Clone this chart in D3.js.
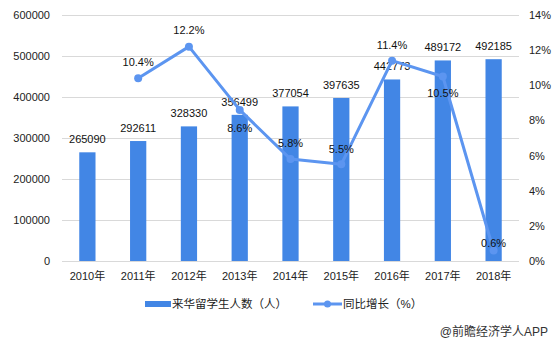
<!DOCTYPE html>
<html>
<head>
<meta charset="utf-8">
<script src="https://cdn.jsdelivr.net/npm/d3@7/dist/d3.min.js"></script>
<style>
  html, body { margin: 0; padding: 0; background: #fff; }
  svg text { font-family: "Liberation Sans", Arial, "Noto Sans CJK SC", sans-serif; }
</style>
</head>
<body>
<svg id="chart" width="554" height="343"></svg>
<script>
// International students in China, 2010-2018
const years = ["2010年", "2011年", "2012年", "2013年", "2014年", "2015年", "2016年", "2017年", "2018年"];
const students = [265090, 292611, 328330, 356499, 377054, 397635, 442773, 489172, 492185];
const growth = [null, 10.4, 12.2, 8.6, 5.8, 5.5, 11.4, 10.5, 0.6];
const leftTicks = [0, 100000, 200000, 300000, 400000, 500000, 600000];
const rightTicks = [0, 2, 4, 6, 8, 10, 12, 14];
const seriesNames = ["来华留学生人数（人）", "同比增长（%）"];
const sourceNote = "@前瞻经济学人APP";

// label placement for growth values: vertical offset from the point
const growthLabelDy = [0, -16, -16, 18, -16, -15, -16, 17, -7];

const barColor = "#4286E5";
const lineColor = "#5C95F0";
const gridColor = "#D9D9D9";

const svg = d3.select("#chart");
const plot = { left: 62, right: 519, top: 15, bottom: 261 };

const x = d3.scaleBand().domain(years).range([plot.left, plot.right]);
const yL = d3.scaleLinear().domain([0, 600000]).range([plot.bottom, plot.top]);
const yR = d3.scaleLinear().domain([0, 14]).range([plot.bottom, plot.top]);

// gridlines
svg.append("g")
  .selectAll("line").data(leftTicks).join("line")
  .attr("x1", plot.left).attr("x2", plot.right)
  .attr("y1", d => Math.round(yL(d)) + 0.5).attr("y2", d => Math.round(yL(d)) + 0.5)
  .attr("stroke", gridColor).attr("stroke-width", 1);

// left axis
const leftAxis = svg.append("g")
  .attr("transform", `translate(${plot.left - 12},0)`)
  .call(d3.axisLeft(yL).tickValues(leftTicks).tickFormat(d3.format("d")).tickSize(0).tickPadding(0));
leftAxis.select(".domain").remove();
leftAxis.selectAll("text").attr("font-size", 11).attr("fill", "#222");

// right axis
const rightAxis = svg.append("g")
  .attr("transform", `translate(${plot.right + 10},0)`)
  .call(d3.axisRight(yR).tickValues(rightTicks).tickFormat(d => d + "%").tickSize(0).tickPadding(0));
rightAxis.select(".domain").remove();
rightAxis.selectAll("text").attr("font-size", 11).attr("fill", "#222");

// bottom axis
const bottomAxis = svg.append("g")
  .attr("transform", `translate(0,${plot.bottom})`)
  .call(d3.axisBottom(x).tickSize(0).tickPadding(11));
bottomAxis.select(".domain").remove();
bottomAxis.selectAll("text").attr("font-size", 11).attr("fill", "#222");

// bars
const barW = x.bandwidth() * 0.32;
svg.append("g")
  .selectAll("rect").data(students).join("rect")
  .attr("x", (d, i) => x(years[i]) + (x.bandwidth() - barW) / 2)
  .attr("y", d => yL(d))
  .attr("width", barW)
  .attr("height", d => yL(0) - yL(d))
  .attr("fill", barColor);

// bar value labels
svg.append("g")
  .selectAll("text").data(students).join("text")
  .attr("x", (d, i) => x(years[i]) + x.bandwidth() / 2)
  .attr("y", d => yL(d) - 13)
  .attr("dy", "0.35em")
  .attr("text-anchor", "middle")
  .attr("font-size", 11)
  .attr("fill", "#111")
  .text(d => d);

// growth line
const pts = growth.map((g, i) => ({ g, i })).filter(p => p.g !== null);
const cx = p => x(years[p.i]) + x.bandwidth() / 2;
const line = d3.line().x(cx).y(p => yR(p.g));
svg.append("path")
  .datum(pts)
  .attr("d", line)
  .attr("fill", "none")
  .attr("stroke", lineColor)
  .attr("stroke-width", 3)
  .attr("stroke-linejoin", "round");
svg.append("g")
  .selectAll("circle").data(pts).join("circle")
  .attr("cx", cx).attr("cy", p => yR(p.g))
  .attr("r", 4)
  .attr("fill", lineColor);

// growth labels
svg.append("g")
  .selectAll("text").data(pts).join("text")
  .attr("x", cx)
  .attr("y", p => yR(p.g) + growthLabelDy[p.i])
  .attr("dy", "0.35em")
  .attr("text-anchor", "middle")
  .attr("font-size", 11)
  .attr("fill", "#111")
  .text(p => p.g.toFixed(1) + "%");

// legend
const legend = svg.append("g").attr("transform", "translate(0,304)");
legend.append("rect")
  .attr("x", 145).attr("y", -3).attr("width", 26).attr("height", 6)
  .attr("fill", barColor);
legend.append("text")
  .attr("x", 172).attr("y", 0).attr("dy", "0.35em")
  .attr("font-size", 11.5).attr("fill", "#222")
  .text(seriesNames[0]);
legend.append("line")
  .attr("x1", 313).attr("x2", 342).attr("y1", 0).attr("y2", 0)
  .attr("stroke", lineColor).attr("stroke-width", 3);
legend.append("circle")
  .attr("cx", 327.5).attr("cy", 0).attr("r", 3.5).attr("fill", lineColor);
legend.append("text")
  .attr("x", 343).attr("y", 0).attr("dy", "0.35em")
  .attr("font-size", 11.5).attr("fill", "#222")
  .text(seriesNames[1]);

// source note
svg.append("text")
  .attr("x", 548).attr("y", 332).attr("dy", "0.35em")
  .attr("text-anchor", "end")
  .attr("font-size", 12).attr("fill", "#333")
  .text(sourceNote);
</script>
</body>
</html>
